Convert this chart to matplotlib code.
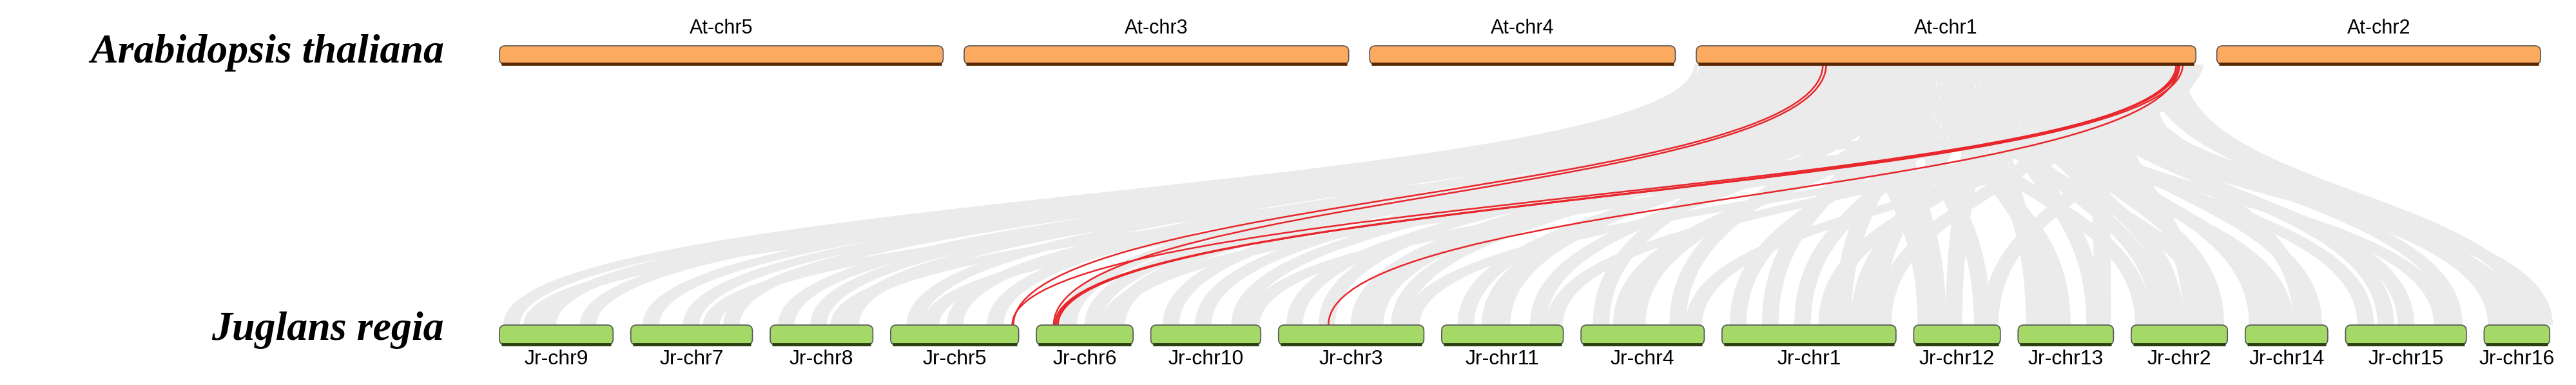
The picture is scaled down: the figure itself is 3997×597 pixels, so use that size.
import matplotlib
matplotlib.use('Agg')
from matplotlib import pyplot as plt
from matplotlib.path import Path
from matplotlib.patches import PathPatch, FancyBboxPatch

# chromosome names and lengths (Mb)
at_names = ['At-chr5', 'At-chr3', 'At-chr4', 'At-chr1', 'At-chr2']
at_len = [27.0, 23.4, 18.6, 30.4, 19.7]
jr_names = ['Jr-chr9', 'Jr-chr7', 'Jr-chr8', 'Jr-chr5', 'Jr-chr6', 'Jr-chr10', 'Jr-chr3', 'Jr-chr11',
            'Jr-chr4', 'Jr-chr1', 'Jr-chr12', 'Jr-chr13', 'Jr-chr2', 'Jr-chr14', 'Jr-chr15', 'Jr-chr16']
jr_len = [28.2, 30.2, 25.5, 31.8, 24.0, 27.3, 36.1, 30.2, 30.6, 43.2, 21.5, 23.7, 23.9, 20.5, 30.0, 16.3]

# background collinear links: At-chr1 position -> (Jr chromosome, position)
gray_at = [0.5, 1.5, 2.5, 1.0, 3.0, 2.0, 4.0, 3.5, 5.0, 2.5, 6.0, 4.5, 1.5, 5.5, 7.0, 3.0,
           6.5, 8.0, 9.0, 4.0, 7.5, 10.0, 11.0, 8.5, 12.0, 6.0, 13.0, 9.5, 14.0, 11.5,
           15.0, 12.5, 16.0, 10.5, 17.0, 13.5, 18.0, 15.5, 19.0, 14.5, 20.0, 16.5, 21.0,
           17.5, 22.0, 19.5, 23.0, 18.5, 24.0, 21.5, 25.0, 20.5, 26.0, 22.5, 27.0, 24.5,
           28.0, 23.5, 29.0, 26.5, 30.0, 25.5, 27.5, 29.5, 28.5, 30.2, 26.0, 22.0, 18.0,
           14.0, 10.0, 12.0, 16.0, 20.0, 24.0, 28.0, 9.0, 19.0, 25.0, 29.0]
gray_jr = ['Jr-chr9', 'Jr-chr9', 'Jr-chr9', 'Jr-chr7', 'Jr-chr7', 'Jr-chr7', 'Jr-chr8', 'Jr-chr8',
           'Jr-chr8', 'Jr-chr5', 'Jr-chr5', 'Jr-chr5', 'Jr-chr6', 'Jr-chr6', 'Jr-chr6', 'Jr-chr10',
           'Jr-chr10', 'Jr-chr10', 'Jr-chr3', 'Jr-chr3', 'Jr-chr3', 'Jr-chr3', 'Jr-chr11', 'Jr-chr11',
           'Jr-chr11', 'Jr-chr4', 'Jr-chr4', 'Jr-chr4', 'Jr-chr1', 'Jr-chr1', 'Jr-chr1', 'Jr-chr1',
           'Jr-chr1', 'Jr-chr12', 'Jr-chr12', 'Jr-chr12', 'Jr-chr13', 'Jr-chr13', 'Jr-chr13',
           'Jr-chr2', 'Jr-chr2', 'Jr-chr2', 'Jr-chr14', 'Jr-chr14', 'Jr-chr14', 'Jr-chr15',
           'Jr-chr15', 'Jr-chr15', 'Jr-chr16', 'Jr-chr16', 'Jr-chr16', 'Jr-chr2', 'Jr-chr15',
           'Jr-chr16', 'Jr-chr14', 'Jr-chr13', 'Jr-chr12', 'Jr-chr1', 'Jr-chr4', 'Jr-chr11',
           'Jr-chr3', 'Jr-chr10', 'Jr-chr6', 'Jr-chr5', 'Jr-chr8', 'Jr-chr7', 'Jr-chr9',
           'Jr-chr1', 'Jr-chr2', 'Jr-chr4', 'Jr-chr11', 'Jr-chr12', 'Jr-chr13', 'Jr-chr14',
           'Jr-chr15', 'Jr-chr16', 'Jr-chr3', 'Jr-chr1', 'Jr-chr2', 'Jr-chr16']
gray_pos = [3, 12, 22, 5, 15, 25, 4, 12, 20, 6, 16, 26, 8, 14, 20, 5, 13, 22, 4, 12, 20, 30,
            6, 15, 24, 5, 14, 24, 4, 12, 20, 30, 38, 3, 10, 17, 4, 11, 19, 3, 11, 19, 3, 10, 17,
            5, 15, 24, 3, 8, 13, 21, 27, 15, 14, 21, 19, 40, 28, 28, 33, 25, 18, 10, 17, 20, 8,
            26, 7, 10, 12, 6, 8, 6, 10, 5, 24, 34, 15, 11]

# highlighted links (At-chr1 position -> Jr chromosome, position)
red_at = [7.7, 7.9, 29.4, 29.2, 29.6, 29.3, 29.4]
red_jr = ['Jr-chr5', 'Jr-chr6', 'Jr-chr5', 'Jr-chr6', 'Jr-chr6', 'Jr-chr6', 'Jr-chr3']
red_pos = [30.5, 4.3, 30.2, 4.6, 5.0, 5.4, 12.4]

W, H = 3997, 597
fig = plt.figure(figsize=(W / 100, H / 100), dpi=100)
ax = fig.add_axes([0, 0, 1, 1])
ax.set_xlim(0, W)
ax.set_ylim(H, 0)
ax.axis('off')

top_y0, top_y1 = 71, 100
bot_y0, bot_y1 = 504, 535


def layout(lengths, start, scale, gap):
    xs = []
    x = start
    for l in lengths:
        xs.append(x)
        x += l * scale + gap
    return xs


at_scale, jr_scale = 25.5, 6.25
at_x = layout(at_len, 775, at_scale, 32.5)
jr_x = layout(jr_len, 775, jr_scale, 27.5)
at_start = dict(zip(at_names, at_x))
jr_start = dict(zip(jr_names, jr_x))


def link(xa, xb, color, lw, z):
    ya, yb = top_y1, bot_y0
    ym = (ya + yb) / 2
    verts = [(xa, ya), (xa, ym), (xb, ym), (xb, yb)]
    p = Path(verts, [Path.MOVETO, Path.CURVE4, Path.CURVE4, Path.CURVE4])
    ax.add_patch(PathPatch(p, fc='none', ec=color, lw=lw, zorder=z))


for a, c, p in zip(gray_at, gray_jr, gray_pos):
    for d in (-0.5, -0.17, 0.17, 0.5):
        link(at_start['At-chr1'] + (a + d) * at_scale, jr_start[c] + (p + d * 3) * jr_scale,
             '#ebebeb', 5, 1)

for a, c, p in zip(red_at, red_jr, red_pos):
    link(at_start['At-chr1'] + a * at_scale, jr_start[c] + p * jr_scale, '#e8262b', 1.8, 3)


def chrom(x, w, y0, y1, fc, dark):
    ax.add_patch(FancyBboxPatch((x, y0), w, y1 - y0, boxstyle='round,pad=0,rounding_size=9',
                                fc=fc, ec='#555555', lw=1.2, zorder=5))
    ax.plot([x + 3, x + w - 3], [y1 - 1.5, y1 - 1.5], color=dark, lw=3.5, zorder=6,
            solid_capstyle='butt')


for name, x, l in zip(at_names, at_x, at_len):
    w = l * at_scale
    chrom(x, w, top_y0, top_y1, '#fbaa60', '#5a2800')
    ax.text(x + w / 2, 44, name, ha='center', va='center', fontsize=22, family='Liberation Sans')

for name, x, l in zip(jr_names, jr_x, jr_len):
    w = l * jr_scale
    chrom(x, w, bot_y0, bot_y1, '#a4d867', '#2a4010')
    ax.text(x + w / 2, 557, name, ha='center', va='center', fontsize=23, family='Liberation Sans')

ax.text(689, 82, 'Arabidopsis thaliana', ha='right', va='center', fontsize=46,
        family='Liberation Serif', style='italic', weight='bold')
ax.text(689, 512, 'Juglans regia', ha='right', va='center', fontsize=46,
        family='Liberation Serif', style='italic', weight='bold')

fig.savefig('out.png', dpi=100)
